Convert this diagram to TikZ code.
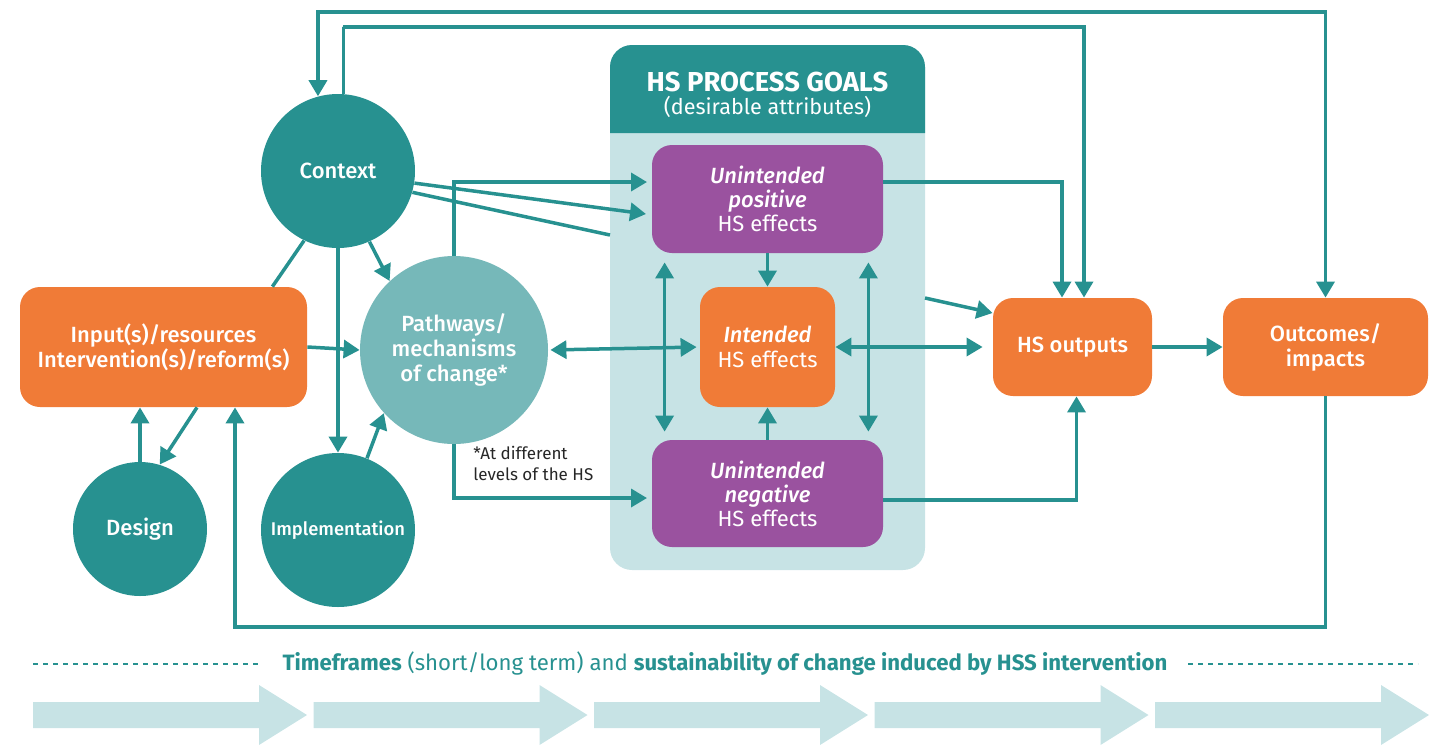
\documentclass[tikz,border=0pt]{standalone}
\usepackage{fontspec}
\setmainfont{Fira Sans}
\newfontfamily\medfont{Fira Sans Medium}
\usetikzlibrary{arrows.meta,calc}
\definecolor{teal1}{HTML}{279190}
\definecolor{teal2}{HTML}{76B8B9}
\definecolor{orng}{HTML}{F07B37}
\definecolor{purp}{HTML}{9A529F}
\definecolor{pale}{HTML}{C7E3E5}
\begin{document}
\begin{tikzpicture}[x=0.5pt,y=-0.5pt,
  conn/.style={draw=teal1,line width=1.75pt},
  arr/.style={conn,-{Triangle[length=8pt,width=9pt]}},
  darr/.style={conn,{Triangle[length=8pt,width=9pt]}-{Triangle[length=8pt,width=9pt]}},
  circ/.style={circle,fill=teal1,text=white,inner sep=0pt,align=center},
  obox/.style={rectangle,rounded corners=10pt,fill=orng,text=white,align=center,inner sep=0pt},
  pbox/.style={rectangle,rounded corners=10pt,fill=purp,text=white,align=center,inner sep=0pt},
  txt/.style={font=\medfont\fontsize{11}{12.5}\selectfont},
  etxt/.style={font=\fontsize{11}{12}\selectfont}
]
\useasboundingbox (0,0) rectangle (1429,745);

% panel
\node[fill=pale,rounded corners=11pt,minimum width=157.5pt,minimum height=262.5pt,inner sep=0pt] (panel) at (767.5,307.5) {};
\fill[teal1] (610,133) {[rounded corners=11pt] -- (610,45) -- (925,45)} -- (925,133) -- cycle;
\node[text=white,font=\bfseries\fontsize{13.7}{15}\selectfont] (hdr) at (767.5,82) {HS PROCESS GOALS};
\node[text=white,font=\fontsize{10.8}{13}\selectfont] (hdr2) at (767.5,107) {(desirable attributes)};

% nodes
\node[circ,minimum size=77pt,txt] (ctx) at (338,171) {\raisebox{-2pt}{Context}};
\node[circ,fill=teal2,minimum size=94pt,txt] (pw) at (454,350) {Pathways/\\mechanisms\\of change*};
\node[circ,minimum size=67pt,txt] (des) at (140,529) {Design};
\node[circ,minimum size=77pt,font=\medfont\fontsize{9.2}{11}\selectfont] (impl) at (338,530) {Implementation};
\node[obox,minimum width=143.5pt,minimum height=60pt,txt] (inp) at (163.5,347) {Input(s)/resources\\Intervention(s)/reform(s)};
\node[pbox,minimum width=115.5pt,minimum height=54pt,etxt] (up) at (767.5,199) {{\medfont\itshape Unintended}\\{\medfont\itshape positive}\\HS effects};
\node[obox,minimum width=67.5pt,minimum height=60pt,font=\fontsize{11}{12.5}\selectfont] (int) at (767.5,347) {{\medfont\itshape Intended}\\HS effects};
\node[pbox,minimum width=115.5pt,minimum height=53.5pt,etxt] (un) at (767.5,493.5) {{\medfont\itshape Unintended}\\{\medfont\itshape negative}\\HS effects};
\node[obox,minimum width=79.5pt,minimum height=49pt,txt] (hso) at (1072.5,347) {HS outputs};
\node[obox,minimum width=102.5pt,minimum height=49pt,txt] (out) at (1325.5,347) {Outcomes/\\impacts};

\node[anchor=north west,align=left,font=\fontsize{8.5}{10.5}\selectfont,text=black!85,inner sep=0pt] (note) at (473,446) {*At different\\levels of the HS};

% coordinates
\coordinate (ctxup) at (646,214);
\coordinate (ctxpan) at (610,235);
\coordinate (pwup) at (647,182);
\coordinate (pwun) at (647,498);
\coordinate (pantop) at (925,298);
\coordinate (fbk) at (235,627);
\coordinate (top1) at (318,12);
\coordinate (top2) at (343,27);

% connectors around context
\draw[arr] (ctx.-9) -- (ctxup);
\draw[conn] (ctx.-16) -- (ctxpan);
\draw[arr] (ctx.south) -- (impl.north);
\draw[arr] (ctx.-66) -- (pw.133);
\draw[conn] (ctx.-116) -- ($(inp.north east)+(-35,0)$);
\draw[darr] (ctx.105) |- (top1) -| (out.north);
\draw[arr] (ctx.86) |- (top2) -| ($(hso.north)+(11.5,0)$);

% left side
\draw[arr] (inp.east) -- (pw.west);
\draw[arr] (impl.68) -- (pw.222);
\draw[arr] (des.north) -- (des.north |- inp.south);
\draw[arr] ($(inp.south)+(33.5,0)$) -- (des.73);
\draw[arr] (out.south) |- (fbk) -- (fbk |- inp.south);

% pathways
\draw[arr] (pw.north) |- (pwup);
\draw[arr] (pw.south) |- (pwun);
\draw[darr,shorten <=1pt,shorten >=1.5pt] (pw.east) -- (int.west);

% inside panel
\draw[arr] (up.south) -- (int.north);
\draw[arr] (un.north) -- (int.south);
\draw[darr,shorten <=4.5pt,shorten >=4pt] ($(up.south west)+(13,0)$) -- ($(un.north west)+(13,0)$);
\draw[darr,shorten <=4.5pt,shorten >=4pt] ($(up.south east)+(-15,0)$) -- ($(un.north east)+(-15,0)$);

% right side
\draw[arr] ($(up.east)+(0,-17)$) -| ($(hso.north)+(-10.5,0)$);
\draw[arr] (pantop) -- ($(hso.west)+(0,-34)$);
\draw[darr,shorten >=5pt] (int.east) -- (hso.west);
\draw[arr] (hso.east) -- (out.west);
\draw[arr] ($(un.east)+(0,6.5)$) -| ($(hso.south)+(4,0)$);

% timeline
\draw[teal1,line width=0.75pt,dash pattern=on 2.5pt off 2.5pt] (33,664) -- (262,664);
\draw[teal1,line width=0.75pt,dash pattern=on 2.5pt off 2.5pt] (1188,664) -- (1418,664);
\node[text=teal1,font=\fontsize{11.1}{13}\selectfont] (tl) at (725,664) {\textbf{Timeframes} (short/long term) and \textbf{sustainability of change induced by HSS intervention}};
\foreach \i in {0,...,4}{
  \fill[pale] ({33+280.5*\i},702) -- ++(226,0) -- ++(0,-17) -- ++(48,30) -- ++(-48,30) -- ++(0,-17) -- ++(-226,0) -- cycle;
}
\end{tikzpicture}
\end{document}
